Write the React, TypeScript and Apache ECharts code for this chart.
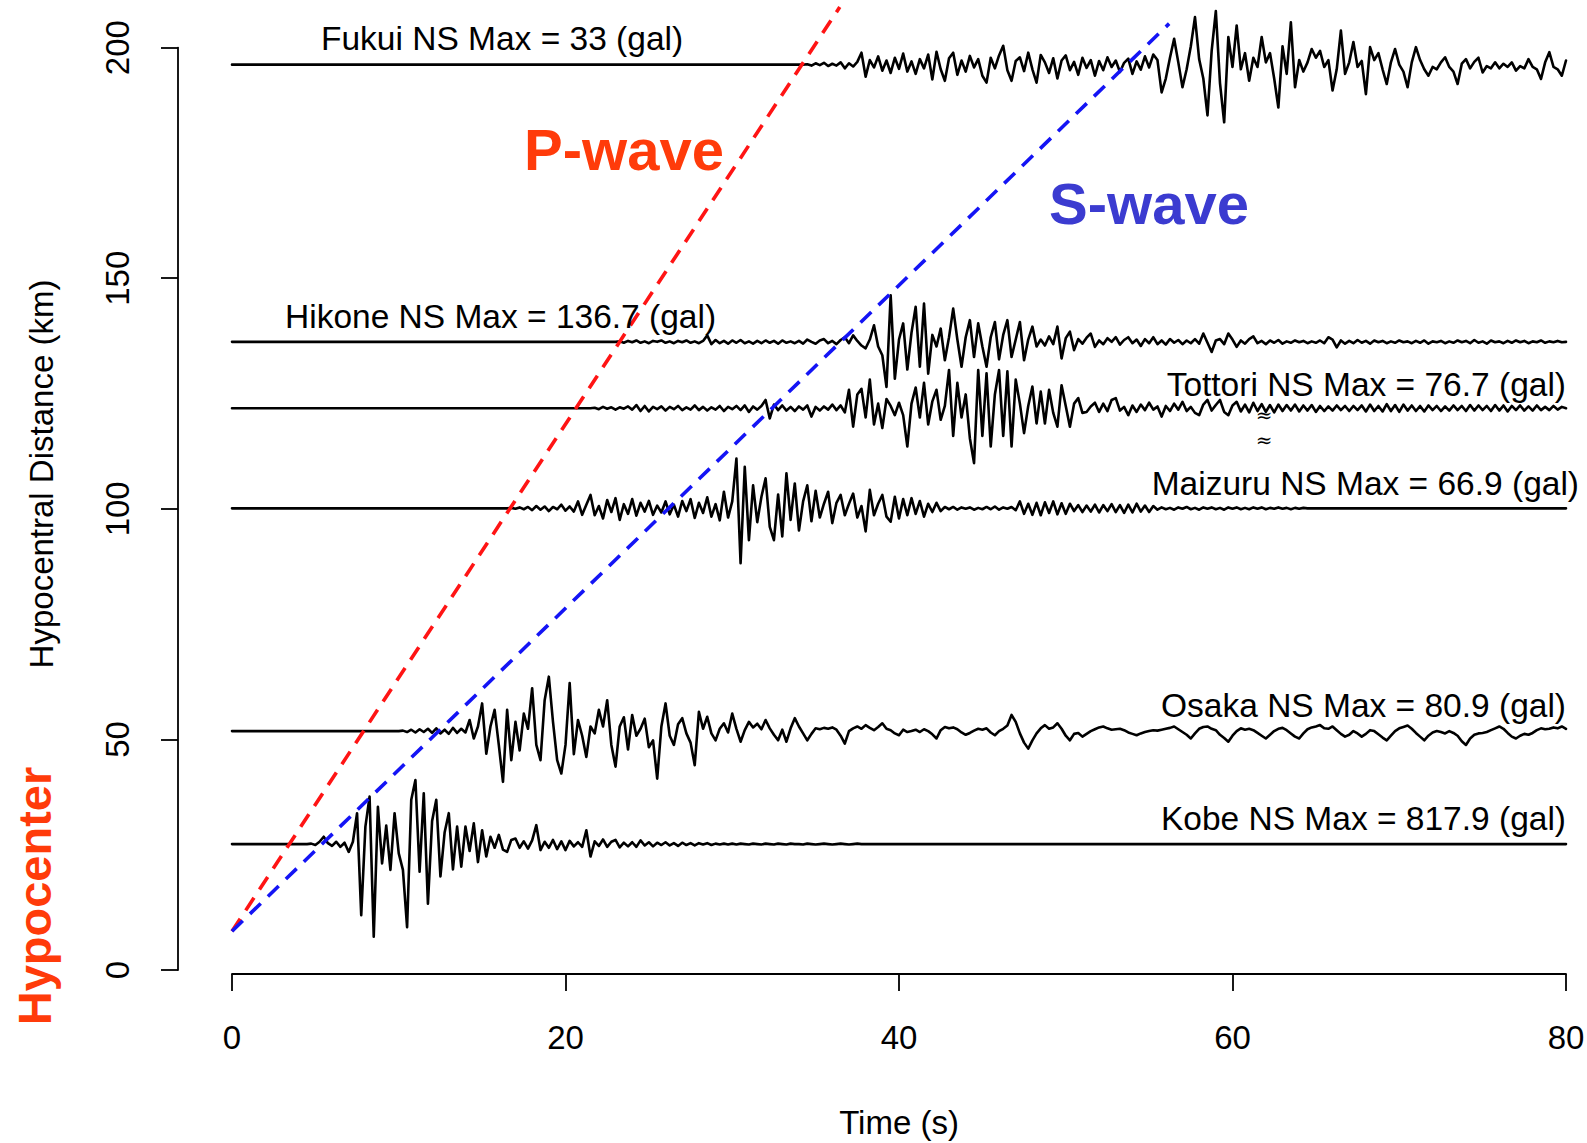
import React, { useEffect, useRef } from "react";
import * as echarts from "echarts";

// ---- axes ----
const xTicks = [0, 20, 40, 60, 80];
const yTicks = [0, 50, 100, 150, 200];
const SAMPLE_STEP = 0.25; // s between digitised samples

// ---- P / S travel-time lines [time s, distance km] ----
const pWaveLine = [[0, 8.4], [36.45, 208.8]];
const sWaveLine = [[0, 8.4], [56.2, 205.2]];

// ---- Fukui ----
const fukuiBaseline = 196.3;
const fukuiOnset = 34;
const fukuiValues = [
  0, 0, 0.1, -0.2, 0.3, -0.1, 0.4, -0.3, 0.2, -0.2, 0.5, -0.8, 0.3, -0.4,
  0.6, 2.6, -2.6, 1.0, -0.6, 1.8, -1.3, 0.9, -1.8, 1.5,
  -0.9, 2.4, -1.5, 0.7, -2.0, 1.2, -0.8, 2.2, -3.2, 2.8, -1.0, -3.5, 1.4, 2.6, -2.2, 0.9,
  -1.5, 1.9, -0.6, 1.2, -2.4, -3.9, 1.5, -0.8, 2.0, 4.1, -1.2, -3.5, 0.8, 1.6, -1.4, 2.6,
  -1.0, -3.9, 2.1, 0.5, -1.8, 1.4, -3.0, 0.9, 2.0, -1.2, 0.6, -2.2, 1.5, -0.7, 1.0, -2.4,
  0.8, -1.2, 1.6, -0.5, 0.9, -1.6, 0.4, 1.3, -2.0, 0.7, -1.1, 1.8, -0.6, 2.2, 1.0, -6.0,
  -3.0, 1.5, 5.6, 0.5, -4.9, -1.0, 4.0, 10.3, 1.2, -3.0, -11.0, 3.0, 11.6, -4.0, -12.5, 6.0,
  -0.5, 8.5, -1.0, 2.5, -3.5, 1.5, -0.5, 6.0, 0.5, 2.5, -3.0, -9.3, 4.0, -2.0, 9.2, -4.9,
  1.0, -1.5, 0.5, 3.4, 1.5, 3.0, -0.5, 1.0, -5.6, -1.0, 7.4, -2.0, 0.5, 4.9, -0.5, 0.8,
  -6.4, 3.8, 1.0, 2.5, -1.0, -4.2, 0.5, 3.4, 0.0, -1.5, -4.9, 0.5, 3.8, 1.0, -1.0, -2.4,
  -0.5, -1.0, 0.5, 1.6, -0.5, -1.5, -4.2, 0.2, 1.2, -0.8, 0.6, 1.5, -1.7, -0.3, -0.8, 0.5,
  -0.8, 0.2, -0.5, 0.5, -1.3, -0.3, -0.8, 1.2, -0.5, -1.0, -3.1, 0.5, 2.7, -0.5, -1.0, -2.4,
  0.9,
];

// ---- Hikone ----
const hikoneBaseline = 136.2;
const hikoneOnset = 23;
const hikoneValues = [
  0, 0.1, -0.2, 0.2, -0.1, 0.3, -0.2, 0.1, -0.3, 0.2, 0, 0.3, -0.2, 0.1, -0.3, 0.2, -0.1, 0.3, -0.2, 0.1, -0.3, 0.2,
  1.4, -0.5, 0.4, -0.3, 0.2, -0.4, 0.3, -0.2, 0.4, -0.3, 0.1, -0.4, 0.2, -0.3, 0.3, -0.2,
  0.2, -0.4, 0.3, -0.2, 0.1, -0.3, 0.2, -0.4, 0.5, 0, -0.4, 0.3, 0.6, -0.3, 0.2, -0.5,
  0.4, 1.0, -0.3, 1.4, 0.2, -0.8, -1.4, 0.5, 3.6, -1.0, -2.9, -9.8, 10.1, -8.0,
  0.5, 4.0, -6.0, 2.0, 7.6, -5.4, 8.3, -6.9, 1.5, -1.0, 2.9, -4.0, 1.0, 7.2, 0.5, -5.4,
  1.0, 4.7, -3.3, 4.0, -1.0, -5.4, 1.0, 4.3, -3.8, 1.5, 4.7, -3.3, 0.5, 4.3, -4.0, 0.5,
  3.3, -1.0, 0.5, -0.8, 1.2, -0.5, 3.3, -3.6, 0.8, 2.2, -1.8, 0.6, -0.4, 0.9, 1.8, -1.1,
  0.3, -0.5, 0.8, 0, 1.0, -0.6, 0.4, 1.0, -0.3, 0.5, -0.9, 0.6, -0.3, 1.0, -0.5, 0.3,
  -0.6, 0.6, -0.2, 0.4, -0.5, 0.3, -0.3, 0.6, -0.4, 1.8, -0.2, -2.2, 0.3, 0.6, -0.5, 1.8,
  0.5, -1.1, 0.3, -0.4, 0.6, 1.2, -0.3, 0.2, -0.5, 0.3, -0.2, 0.4, -0.4, 0.1, -0.2, 0.3,
  -0.1, 0.2, -0.3, 0.1, -0.2, 0.3, -0.3, 1.0, 0.5, -1.2, 0.3, -0.4, 0.2, -0.3, 0.4, -0.2,
  0.2, -0.4, 0.3, -0.1, 0.2, -0.3, 0.1, -0.2, 0.3, -0.1, 0.1, -0.3, 0.2, -0.2, 0.3, -0.4,
  0.1, -0.1, 0.2, -0.3, 0.1, -0.2, 0.3, -0.1, 0.2, -0.3, 0.4, -0.2, 0.1, -0.4, 0.3, -0.1,
  0.1, -0.3, 0.2, -0.2, 0.3, -0.1, 0.2, -0.3, 0.1, -0.1, 0.3, -0.2, 0.1, -0.1, 0.2, -0.1,
  0,
];

// ---- Tottori ----
const tottoriBaseline = 121.8;
const tottoriOnset = 21.5;
const tottoriValues = [
  0, 0.1, -0.2, 0.3, -0.1, 0.2, -0.3, 0.2, -0.1, 0.4, -0.3, 0.7, -0.6, 0.5, -0.7, 0.3,
  -0.2, 0.4, -0.5, 0.3, -0.2, 0.5, -0.4, 0.2, -0.3, 0.6, -0.4, 0.3, -0.5, 0.2, -0.3, 0.5,
  -0.6, 0.3, -0.2, 0.5, -0.4, 0.6, -0.8, 0.4, -0.3, 0.5, 1.8, -2.2, 0.8, -0.4, 0.6, -0.5,
  0.3, -0.6, 0.4, -0.3, 0.6, -1.8, 0.3, -0.5, 0.4, -0.3, 0.8, -0.4, 0.6, -0.9, 4.0, -4.0,
  3.0, 4.2, -2.0, 6.2, -3.5, 1.0, -4.3, 2.0, 0.5, -1.5, 1.2, -1.5, -8.3, 1.0, 4.5, -2.0,
  5.5, -3.5, 1.5, 4.0, -2.5, 0.5, 8.3, -6.0, 5.5, -2.0, 3.0, -6.5, -11.9, 8.3, -6.0, 7.6,
  -8.3, 3.0, 8.3, -6.0, 8.0, -8.3, 6.2, 1.0, -5.4, 0.5, 4.7, -3.3, 3.6, -3.3, 4.0, -1.0,
  -4.0, 5.0, 0.5, -4.0, 1.0, 2.2, -1.0, -0.8, 0.4, 1.2, -0.8, 1.0, -0.6, 1.8, 2.2, -0.5,
  0.3, -1.5, 0.6, -0.8, 0.8, -0.4, 1.2, -0.3, 0.4, -1.8, 0.5, -0.6, 1.0, -0.3, 1.4, -0.6,
  0.3, -1.0, -1.5, 0.8, 1.8, -0.5, 0.7, 1.8, -0.8, -1.5, 0.6, 1.4, -0.7, 0.8, -0.9, 1.2,
  -0.6, 0.9, -0.8, 0.7, -0.9, 0.8, -0.6, 0.7, -0.5, 0.8, -0.7, 0.6, -0.5, 0.7, -0.8, 0.5,
  -0.6, 0.4, -0.5, 0.6, -0.4, 0.5, -0.6, 0.5, -0.4, 0.6, -0.7, 0.8, -0.6, 0.5, -0.7, 0.9,
  -0.6, 0.7, -0.8, 0.8, -0.5, 0.6, -0.6, 0.5, -0.7, 0.6, -0.4, 0.5, -0.6, 0.4, -0.5, 0.6,
  -0.4, 0.5, -0.6, 0.7, -0.5, 0.6, -0.4, 0.5, -0.6, 0.7, -0.5, 0.6, -0.7, 0.5, -0.4, 0.6,
  -0.5, 0.4, -0.5, 0.6, -0.4, 0.3, -0.4, 0.5, -0.3, 0.3, 0,
];

// ---- Maizuru ----
const maizuruBaseline = 100.1;
const maizuruOnset = 16.5;
const maizuruValues = [
  0, 0.1, -0.1, 0.2, -0.2, 0.3, -0.4, 0.5, -0.3, 0.4, -0.6, 0.3, -0.2, 0.8, -0.5, 0.4,
  -0.7, 1.5, -1.4, 0.8, 2.9, -1.5, 0.5, -2.2, 1.8, -0.8, 2.2, -2.5, 0.9, -1.2, 2.0, -1.6,
  1.2, -0.7, 1.6, -1.4, 0.6, -0.9, 1.5, -1.3, 0.8, -1.8, 1.6, -0.6, 2.0, -2.1, 1.2, -1.0,
  2.4, -1.8, 0.9, -2.6, 3.6, -2.0, 1.5, 10.8, -11.9, 9.0, -6.9, 5.0, -3.0, 2.5, 6.5, -4.0,
  -6.9, 3.0, -6.1, 7.6, -2.5, 5.4, -4.8, 1.5, 5.0, -2.8, 3.8, -2.0, 1.0, 3.6, -3.2, 1.2,
  2.9, -1.5, 1.0, 3.2, -2.0, 0.5, -5.0, 4.0, -1.5, 1.0, 2.9, -1.8, -2.9, 2.5, -2.2, 2.0,
  -1.5, 2.2, -1.2, 1.6, -1.8, 1.0, -0.8, 1.2, -0.6, 0.3, -0.2, 0.3, -0.3, 0.2, -0.1, 0.2,
  -0.3, 0.1, -0.2, 0.3, -0.2, 0.4, -0.3, 0.2, -0.1, 0.3, -0.4, 1.5, -1.2, 1.0, -1.4, 1.2,
  -1.5, 1.3, -1.0, 1.5, -1.3, 1.1, -1.2, 1.0, -0.6, 0.7, -0.8, 0.6, -0.7, 0.8, -0.9, 0.7,
  -0.6, 0.9, -0.8, 0.7, -1.0, 0.8, -0.9, 1.0, -0.7, 0.6, -0.8, 0.5, -0.3, 0.2, -0.2, 0.1,
  -0.3, 0.2, -0.1, 0.3, -0.2, 0.1, -0.3, 0.2, -0.1, 0.2, -0.2, 0.1, -0.3, 0.2, -0.1, 0.2,
  -0.2, 0.1, -0.2, 0.2, -0.1, 0.2, -0.2, 0.1, -0.1, 0.2, -0.1, 0.1, -0.2, 0.1, -0.1, 0.1,
  0,
];

// ---- Osaka ----
const osakaBaseline = 51.8;
const osakaOnset = 10;
const osakaValues = [
  0, 0.1, -0.2, 0.3, -0.3, 0.4, -0.2, 0.5, -0.4, 0.6, -0.5, 0.3, -0.6, 0.7, -0.4, 0.5,
  -0.3, 2.4, -1.6, 1.0, 6.0, -4.9, 1.0, 4.6, -3.0, -11.0, 4.6, -6.3, 2.0, -4.2, 3.8, 0.5,
  9.3, -3.0, -6.3, 6.7, 11.8, 2.0, -6.3, -9.2, -3.0, 10.4, -5.0, 2.4, -1.0, -5.6, 1.0, -0.5,
  4.6, 1.0, 6.7, -3.0, -7.7, 1.0, 3.0, -4.0, 3.5, -1.0, 0.5, 2.7, -3.5, -2.0, -10.3, 1.0,
  6.0, -1.0, -3.0, 1.5, 2.8, -0.5, -2.5, -7.4, 4.2, 0.5, 3.1, -0.5, -2.0, 0.5, 1.7, -0.3,
  3.8, 0.5, -2.3, 0.2, 2.0, 0.8, 1.6, 0.4, 2.4, 0.6, -0.8, -2.0, 0.3, -2.3, 0.6, 2.8,
  1.0, -0.5, -2.0, -0.6, 0.6, 0.4, 0.7, 0.5, 0.8, 0.3, -1.0, -2.7, 0.0, 0.6, 1.0, 0.5,
  1.3, 0.7, 0.2, 0.9, 1.7, 0.5, 0.2, -0.5, -0.9, 0.3, -0.2, 0.0, 0.3, -0.2, 0.4, 0.0,
  -0.7, -1.6, 0.2, 0.9, 0.6, 0.8, 0.4, -0.3, -0.8, -0.4, 0.1, 0.5, 0.3, 0.6, -0.3, -0.9,
  0.0, 0.5, 1.2, 3.5, 2.0, -0.5, -2.5, -3.8, -2.0, -0.5, 0.6, 1.3, 0.5, 0.8, 1.7, 0.5,
  -1.0, -2.0, -0.6, -0.4, -1.2, -0.6, 0.0, 0.4, 0.8, 1.0, 0.6, 0.3, 0.4, 0.5, 0.2, -0.3,
  -0.6, -0.9, -0.5, -0.2, 0.0, 0.2, 0.1, 0.3, 0.5, 0.7, 1.0, 0.4, -0.2, -0.8, -1.6, -0.5,
  0.5, 0.9, 1.0, 0.5, 0.2, -0.8, -1.5, -2.3, -1.0, 0.0, 0.6, 0.3, 0.5, 0.2, -0.4, -1.0,
  -1.6, -0.8, 0.0, 0.5, 0.7, 0.2, -0.5, -1.2, -1.6, -0.5, 0.4, 0.8, 1.0, 1.3, 0.6, 0.5,
  1.0, 0.2, -0.6, -1.2, -0.8, 0.0, -0.5, -1.2, -0.6, 0.2, 0.0, -0.7, -1.4, -2.0, -1.0, 0.0,
  0.6, 0.9, 1.2, 0.5, -0.4, -1.2, -2.0, -1.0, -0.3, 0.0, -0.2, -0.5, 0.0, -0.4, -1.0, -2.2,
  -3.0, -1.6, -0.8, -0.5, -0.4, -0.2, 0.2, 0.6, 1.0, 0.5, -0.4, -1.2, -1.6, -1.0, -0.6, -0.8,
  -0.4, 0.2, 0.6, 0.4, 0.5, 0.8, 0.6, 1.0, 0.5,
];

// ---- Kobe ----
const kobeBaseline = 27.3;
const kobeOnset = 4.5;
const kobeValues = [
  0, 0.1, -0.2, 0.5, 1.6, 0.2, -0.4, 0.5, -0.6, 0.3, -1.7, 0.5, 6.7, -15.4, 3.8, 10.3,
  -20.1, 8.1, -4.2, 4.0, -5.6, 6.7, -2.0, -5.6, -18.0, 9.6, 13.9, -6.0, 11.0, -12.9, 5.0, 9.6,
  -7.0, 2.5, 6.7, -5.5, 3.8, -4.9, 3.8, -1.5, 4.5, -3.9, 3.0, -2.7, 1.6, -0.8, 2.0, -1.2,
  -1.7, 0.9, 1.2, -0.8, 0.6, -1.0, 0.8, 4.1, -1.3, 0.5, -0.8, 0.9, -1.1, 0.6, -1.3, 0.7,
  -0.5, 0.4, -0.6, 3.0, -2.7, 0.6, -0.4, 1.0, -0.6, 0.5, 0.9, -0.7, 0.3, -0.5, 0.4, -0.6,
  0.8, -0.3, 0.4, -0.5, 0.3, -0.2, 0.4, -0.3, 0.2, -0.4, 0.3, -0.2, 0.2, -0.3, 0.2, -0.1,
  0.2, -0.2, 0.1, -0.1, 0.1, -0.1, 0.1, -0.1, 0.1, 0, -0.1, 0.1, 0, -0.1, 0.1, 0,
  -0.1, 0.1, 0, -0.1, 0.1, 0, 0, -0.1, 0.1, 0, -0.1, 0, 0.1, 0, -0.1, 0,
  0.1, 0, -0.1, 0, 0.1, 0, 0,
];

// ---- station captions ----
const stationLabels = [
  "Fukui NS Max = 33 (gal)",
  "Hikone NS Max = 136.7 (gal)",
  "Tottori NS Max = 76.7 (gal)",
  "Maizuru NS Max = 66.9 (gal)",
  "Osaka NS Max = 80.9 (gal)",
  "Kobe NS Max = 817.9 (gal)",
];

const FONT = "'Liberation Sans', Arial, Helvetica, sans-serif";

function traceData(baseline: number, onset: number, values: number[]) {
  const pts: number[][] = [[xTicks[0], baseline]];
  values.forEach((v, i) => {
    pts.push([+(onset + i * SAMPLE_STEP).toFixed(3), +(baseline + v).toFixed(3)]);
  });
  const lastT = onset + (values.length - 1) * SAMPLE_STEP;
  const xMax = xTicks[xTicks.length - 1];
  if (lastT < xMax) pts.push([xMax, baseline]);
  return pts;
}

function traceSeries(data: number[][]) {
  return {
    type: "line",
    data,
    symbol: "none",
    showSymbol: false,
    clip: false,
    silent: true,
    z: 2,
    lineStyle: { color: "#000000", width: 2.6, join: "round", cap: "round" },
  };
}

function waveSeries(data: number[][], color: string) {
  return {
    type: "line",
    data,
    symbol: "none",
    showSymbol: false,
    clip: false,
    silent: true,
    z: 3,
    lineStyle: { color, width: 3.6, type: [15, 10] },
  };
}

function txt(text: string, x: number, y: number, opts: any = {}) {
  return {
    type: "text",
    x,
    y,
    rotation: opts.rotation || 0,
    silent: true,
    z: 10,
    style: {
      text,
      fill: opts.fill || "#000000",
      fontSize: opts.fontSize || 33,
      fontWeight: opts.fontWeight || "normal",
      fontFamily: opts.fontFamily || FONT,
      align: opts.align || "center",
      verticalAlign: "middle",
      textAlign: opts.align || "center",
      textVerticalAlign: "middle",
    },
  };
}

export default function App() {
  const ref = useRef<HTMLDivElement>(null);

  useEffect(() => {
    if (!ref.current) return;
    const chart = echarts.init(ref.current, null, { renderer: "svg" });
    const axisCommon = {
      type: "value",
      axisLine: { show: true, onZero: false, lineStyle: { color: "#000", width: 1.8 } },
      axisTick: { show: true, length: 17, lineStyle: { color: "#000", width: 1.8 } },
      splitLine: { show: false },
    };
    const option: any = {
      animation: false,
      backgroundColor: "#ffffff",
      grid: {
        left: 232,
        right: 21,
        top: 47.6,
        bottom: 173,
        containLabel: false,
        outerBoundsMode: "none",
      },
      xAxis: {
        ...axisCommon,
        min: xTicks[0],
        max: xTicks[xTicks.length - 1],
        interval: xTicks[1] - xTicks[0],
        offset: 4,
        axisLabel: {
          show: true,
          margin: 47,
          fontSize: 33,
          color: "#000",
          fontFamily: FONT,
          showMinLabel: true,
          showMaxLabel: true,
        },
        name: "Time (s)",
        nameLocation: "middle",
        nameGap: 132,
        nameTextStyle: { fontSize: 33, color: "#000", fontFamily: FONT },
      },
      yAxis: {
        ...axisCommon,
        min: yTicks[0],
        max: yTicks[yTicks.length - 1],
        interval: yTicks[1] - yTicks[0],
        offset: 54,
        axisLabel: {
          show: true,
          rotate: 90,
          margin: 44,
          fontSize: 33,
          color: "#000",
          fontFamily: FONT,
          showMinLabel: true,
          showMaxLabel: true,
        },
      },
      series: [
        traceSeries(traceData(fukuiBaseline, fukuiOnset, fukuiValues)),
        traceSeries(traceData(hikoneBaseline, hikoneOnset, hikoneValues)),
        traceSeries(traceData(tottoriBaseline, tottoriOnset, tottoriValues)),
        traceSeries(traceData(maizuruBaseline, maizuruOnset, maizuruValues)),
        traceSeries(traceData(osakaBaseline, osakaOnset, osakaValues)),
        traceSeries(traceData(kobeBaseline, kobeOnset, kobeValues)),
        waveSeries(pWaveLine, "#FF1414"),
        waveSeries(sWaveLine, "#1414F5"),
      ],
      graphic: {
        elements: [
          txt(stationLabels[0], 321, 38, { align: "left", fontSize: 33.5 }),
          txt(stationLabels[1], 285, 316, { align: "left", fontSize: 33.5 }),
          txt(stationLabels[2], 1566, 384, { align: "right", fontSize: 33.5 }),
          txt(stationLabels[3], 1579, 483, { align: "right", fontSize: 33.5 }),
          txt(stationLabels[4], 1566, 705, { align: "right", fontSize: 33.5 }),
          txt(stationLabels[5], 1566, 818, { align: "right", fontSize: 33.5 }),
          txt("\u2248", 1264, 415, { fontSize: 20, fontFamily: "'DejaVu Serif', serif" }),
          txt("\u2248", 1264, 440, { fontSize: 20, fontFamily: "'DejaVu Serif', serif" }),
          txt("P-wave", 624, 149, { fontSize: 58, fontWeight: "bold", fill: "#FF3B0A" }),
          txt("S-wave", 1149, 203, { fontSize: 58, fontWeight: "bold", fill: "#3B3BD0" }),
          txt("Hypocenter", 34, 896, {
            fontSize: 47,
            fontWeight: "bold",
            fill: "#FF3B0A",
            rotation: Math.PI / 2,
          }),
          txt("Hypocentral Distance (km)", 41, 474, { rotation: Math.PI / 2 }),
        ],
      },
    };
    chart.setOption(option);
    return () => {
      chart.dispose();
    };
  }, []);

  return (
    <div
      ref={ref}
      style={{
        position: "fixed",
        left: 0,
        top: 0,
        width: 1587,
        height: 1143,
        background: "#ffffff",
      }}
    />
  );
}
